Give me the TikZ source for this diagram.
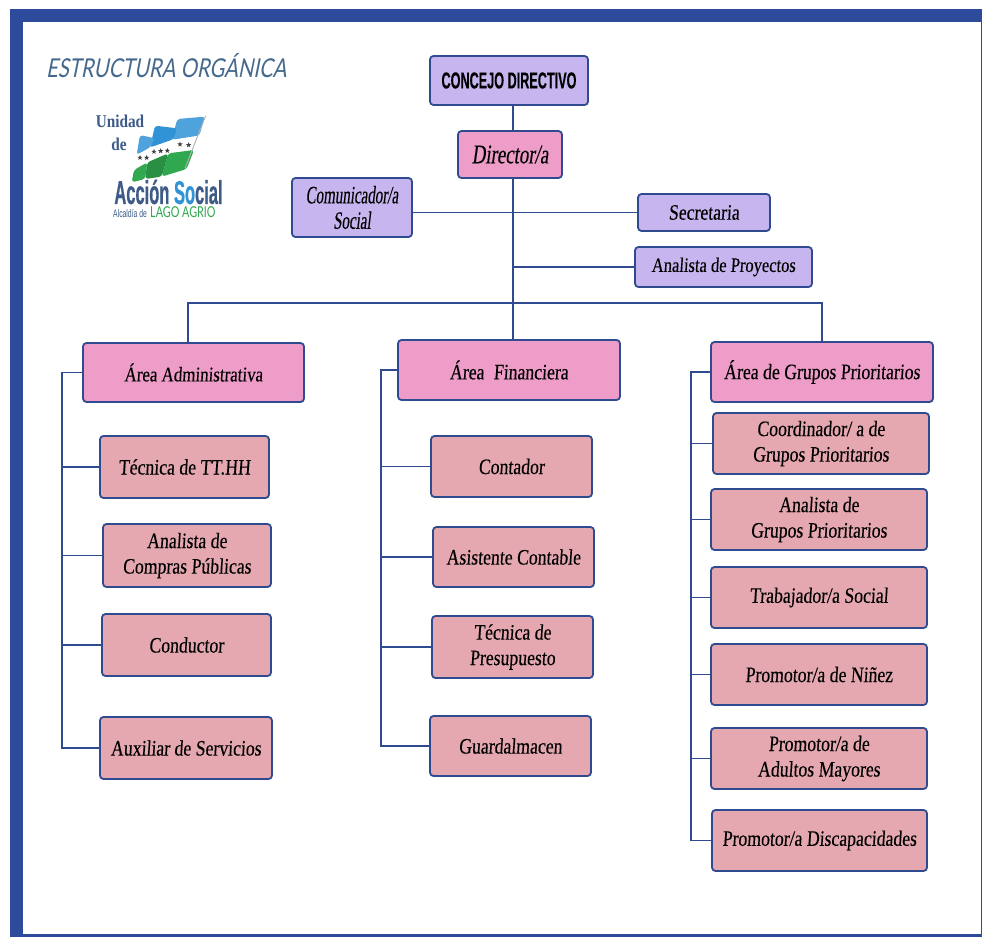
\documentclass[tikz,border=0pt]{standalone}
\usepackage{fontspec}
\usetikzlibrary{shapes.geometric}
\newfontfamily\boxfont[FakeStretch=0.805,FakeSlant=0.07,FakeBold=0.2]{Liberation Serif}
\newfontfamily\narrowfont[FakeStretch=0.6,FakeSlant=0.12,FakeBold=0.2]{Liberation Serif}
\newfontfamily\dirfont[FakeStretch=0.7,FakeSlant=0.14,FakeBold=0.2]{Liberation Serif}
\newfontfamily\headfont[FakeStretch=0.55,FakeBold=0.3]{Liberation Sans}
\newfontfamily\titlefont[FakeStretch=0.78,FakeSlant=0.2]{Lato}
\newfontfamily\logofont[FakeStretch=0.85]{Liberation Serif}
\newfontfamily\logosans[FakeStretch=0.5,FakeBold=0.5]{Liberation Sans}
\newfontfamily\alcfont[FakeStretch=0.62]{Liberation Sans}
\newfontfamily\lagofont[FakeStretch=0.72]{Lato}
\definecolor{frameblue}{HTML}{2E4B9B}
\definecolor{lineblue}{HTML}{2F4A8E}
\definecolor{lav}{HTML}{C6B5EE}
\definecolor{pinkbox}{HTML}{EE9CC8}
\definecolor{rosebox}{HTML}{E5A8B0}
\definecolor{titlecol}{HTML}{44698C}
\definecolor{logodark}{HTML}{3E5B88}
\definecolor{logoblue}{HTML}{2F93D6}
\definecolor{logogreen}{HTML}{2FA84F}
\tikzset{
  x=1pt,y=-1pt,
  orgbox/.style={draw=lineblue,line width=1.8pt,rounded corners=3.5pt,align=center,inner sep=0pt,text=black,
    font=\boxfont\fontsize{22}{25.5}\selectfont},
  lavbox/.style={orgbox,fill=lav},
  pinkb/.style={orgbox,fill=pinkbox},
  rosebx/.style={orgbox,fill=rosebox},
  conn/.style={draw=lineblue,line width=1.7pt},
  tinystar/.style={star,star points=5,star point ratio=2.4,fill=black!75,inner sep=0pt,minimum size=5.5pt},
  flagpart/.style={rounded corners=3pt},
}
\newcommand{\bx}[7]{% style,name,x1,y1,x2,y2,text
  \node[#1,minimum width=#5pt-#3pt,minimum height=#6pt-#4pt] (#2) at ({(#3+#5)/2},{(#4+#6)/2}) {#7};}
\begin{document}
\begin{tikzpicture}
\useasboundingbox (0,0) rectangle (982,937);
\fill[white] (0,0) rectangle (982,937);
\fill[frameblue] (10,9) rectangle (982,937);
\fill[white] (23,22) rectangle (980.5,933.5);

\node[anchor=west,inner sep=0pt,text=titlecol,font=\titlefont\fontsize{26}{28}\selectfont] (title) at (46,66) {ESTRUCTURA ORGÁNICA};

% logo flag, in the 3x crop's coordinates
\begin{scope}[shift={(90,105)},x=0.3333pt,y=-0.3333pt]
  \fill[logoblue!85!white,flagpart] (262,42) -- (345,35) -- (328,92) -- (245,105) -- cycle;
  \fill[white] (245,105) -- (328,92) -- (312,135) -- (235,145) -- cycle;
  \fill[logogreen,flagpart] (235,145) -- (312,135) -- (290,192) -- (215,215) -- cycle;
  \fill[logoblue,flagpart] (195,62) -- (262,70) -- (248,105) -- (180,128) -- cycle;
  \fill[white] (180,128) -- (245,105) -- (235,145) -- (172,172) -- cycle;
  \fill[logogreen!85!black,flagpart] (172,172) -- (235,145) -- (215,215) -- (165,222) -- cycle;
  \fill[logoblue!85!white,flagpart] (150,90) -- (195,100) -- (180,128) -- (140,150) -- cycle;
  \fill[white] (140,150) -- (180,128) -- (172,172) -- (132,195) -- cycle;
  \fill[logogreen,flagpart] (132,195) -- (172,172) -- (165,222) -- (125,232) -- cycle;
  \draw[black!30,line width=0.9pt] (347,32) -- (285,190);
  \foreach \i/\sx/\sy in {a/150/158,b/170/158,c/192/140,d/212/138,e/232/137,f/270/118,g/296/120}
    \node[tinystar] (star\i) at (\sx,\sy) {};
\end{scope}
\node[inner sep=0pt,text=logodark,font=\logofont\bfseries\fontsize{18}{18}\selectfont] (unidad) at (120,121) {Unidad};
\node[inner sep=0pt,text=logodark,font=\logofont\bfseries\fontsize{18}{18}\selectfont] (de) at (119,144) {de};
\node[inner sep=0pt,font=\logosans\bfseries\fontsize{33}{33}\selectfont] (accion) at (168.5,192) {\textcolor{logodark}{Acción }\textcolor{logoblue}{So}\textcolor{logodark}{cial}};
\node[anchor=west,inner sep=0pt,text=logodark,font=\alcfont\fontsize{11}{12}\selectfont] (alcaldia) at (113,214) {Alcaldía de};
\node[anchor=west,inner sep=0pt,text=logogreen,font=\lagofont\fontsize{15}{16}\selectfont] (lago) at (150,212.5) {LAGO AGRIO};

% nodes
\bx{lavbox}{concejo}{430}{56}{588}{105}{{\headfont\bfseries\fontsize{23}{25}\selectfont CONCEJO DIRECTIVO}}
\bx{pinkb}{director}{458}{131}{562}{178}{\dirfont\fontsize{27}{28}\selectfont Director/a}
\bx{lavbox}{com}{292}{178}{412}{237}{\narrowfont\fontsize{25}{27}\selectfont Comunicador/a\\\narrowfont\fontsize{25}{27}\selectfont Social}
\bx{lavbox}{sec}{638}{194}{770}{231}{Secretaria}
\bx{lavbox}{ap}{635}{247}{812}{287}{\fontsize{20.5}{24}\selectfont Analista de Proyectos}
\bx{pinkb}{adm}{83}{343}{304}{402}{\fontsize{21}{24}\selectfont Área Administrativa}
\bx{pinkb}{fin}{398}{340}{620}{400}{Área\hspace{5pt} Financiera}
\bx{pinkb}{grupos}{711}{342}{933}{402}{Área de Grupos Prioritarios}
\bx{rosebx}{tt}{100}{436}{269}{498}{Técnica de TT.HH}
\bx{rosebx}{compras}{103}{524}{271}{587}{Analista de\\Compras Públicas}
\bx{rosebx}{cond}{102}{614}{271}{676}{Conductor}
\bx{rosebx}{aux}{100}{717}{272}{779}{Auxiliar de Servicios}
\bx{rosebx}{cont}{431}{436}{592}{497}{Contador}
\bx{rosebx}{asis}{433}{527}{594}{587}{Asistente Contable}
\bx{rosebx}{pres}{432}{616}{593}{678}{Técnica de\\Presupuesto}
\bx{rosebx}{guard}{430}{716}{591}{776}{Guardalmacen}
\bx{rosebx}{coord}{713}{413}{929}{474}{Coordinador/ a de\\Grupos Prioritarios}
\bx{rosebx}{angp}{711}{489}{927}{550}{Analista de\\Grupos Prioritarios}
\bx{rosebx}{trab}{711}{567}{927}{628}{Trabajador/a Social}
\bx{rosebx}{nin}{711}{644}{927}{705}{Promotor/a de Niñez}
\bx{rosebx}{adul}{711}{728}{927}{789}{Promotor/a de\\Adultos Mayores}
\bx{rosebx}{disc}{712}{810}{927}{871}{Promotor/a Discapacidades}

% connector anchors
\coordinate (tr) at (513,303);
\coordinate (admdrop) at (188,303);
\coordinate (grdrop) at (822,303);
\coordinate (s1) at (62,400);
\coordinate (s2) at (381,400);
\coordinate (s3) at (691,400);

% connectors
\draw[conn] (concejo.south -| tr) -- (director.north -| tr);
\draw[conn] (director.south -| tr) -- (fin.north -| tr);
\draw[conn] (sec.west) -- (sec.west -| com.east);
\draw[conn] (ap.west) -- (ap.west -| tr);
\draw[conn] (admdrop |- adm.north) -- (admdrop) -- (grdrop) -- (grdrop |- grupos.north);
\draw[conn] (adm.west) -- (adm.west -| s1) -- (aux.west -| s1) -- (aux.west);
\foreach \n in {tt,compras,cond} \draw[conn] (\n.west) -- (\n.west -| s1);
\draw[conn] (fin.west) -- (fin.west -| s2) -- (guard.west -| s2) -- (guard.west);
\foreach \n in {cont,asis,pres} \draw[conn] (\n.west) -- (\n.west -| s2);
\draw[conn] (grupos.west) -- (grupos.west -| s3) -- (disc.west -| s3) -- (disc.west);
\foreach \n in {coord,angp,trab,nin,adul} \draw[conn] (\n.west) -- (\n.west -| s3);
\end{tikzpicture}
\end{document}
